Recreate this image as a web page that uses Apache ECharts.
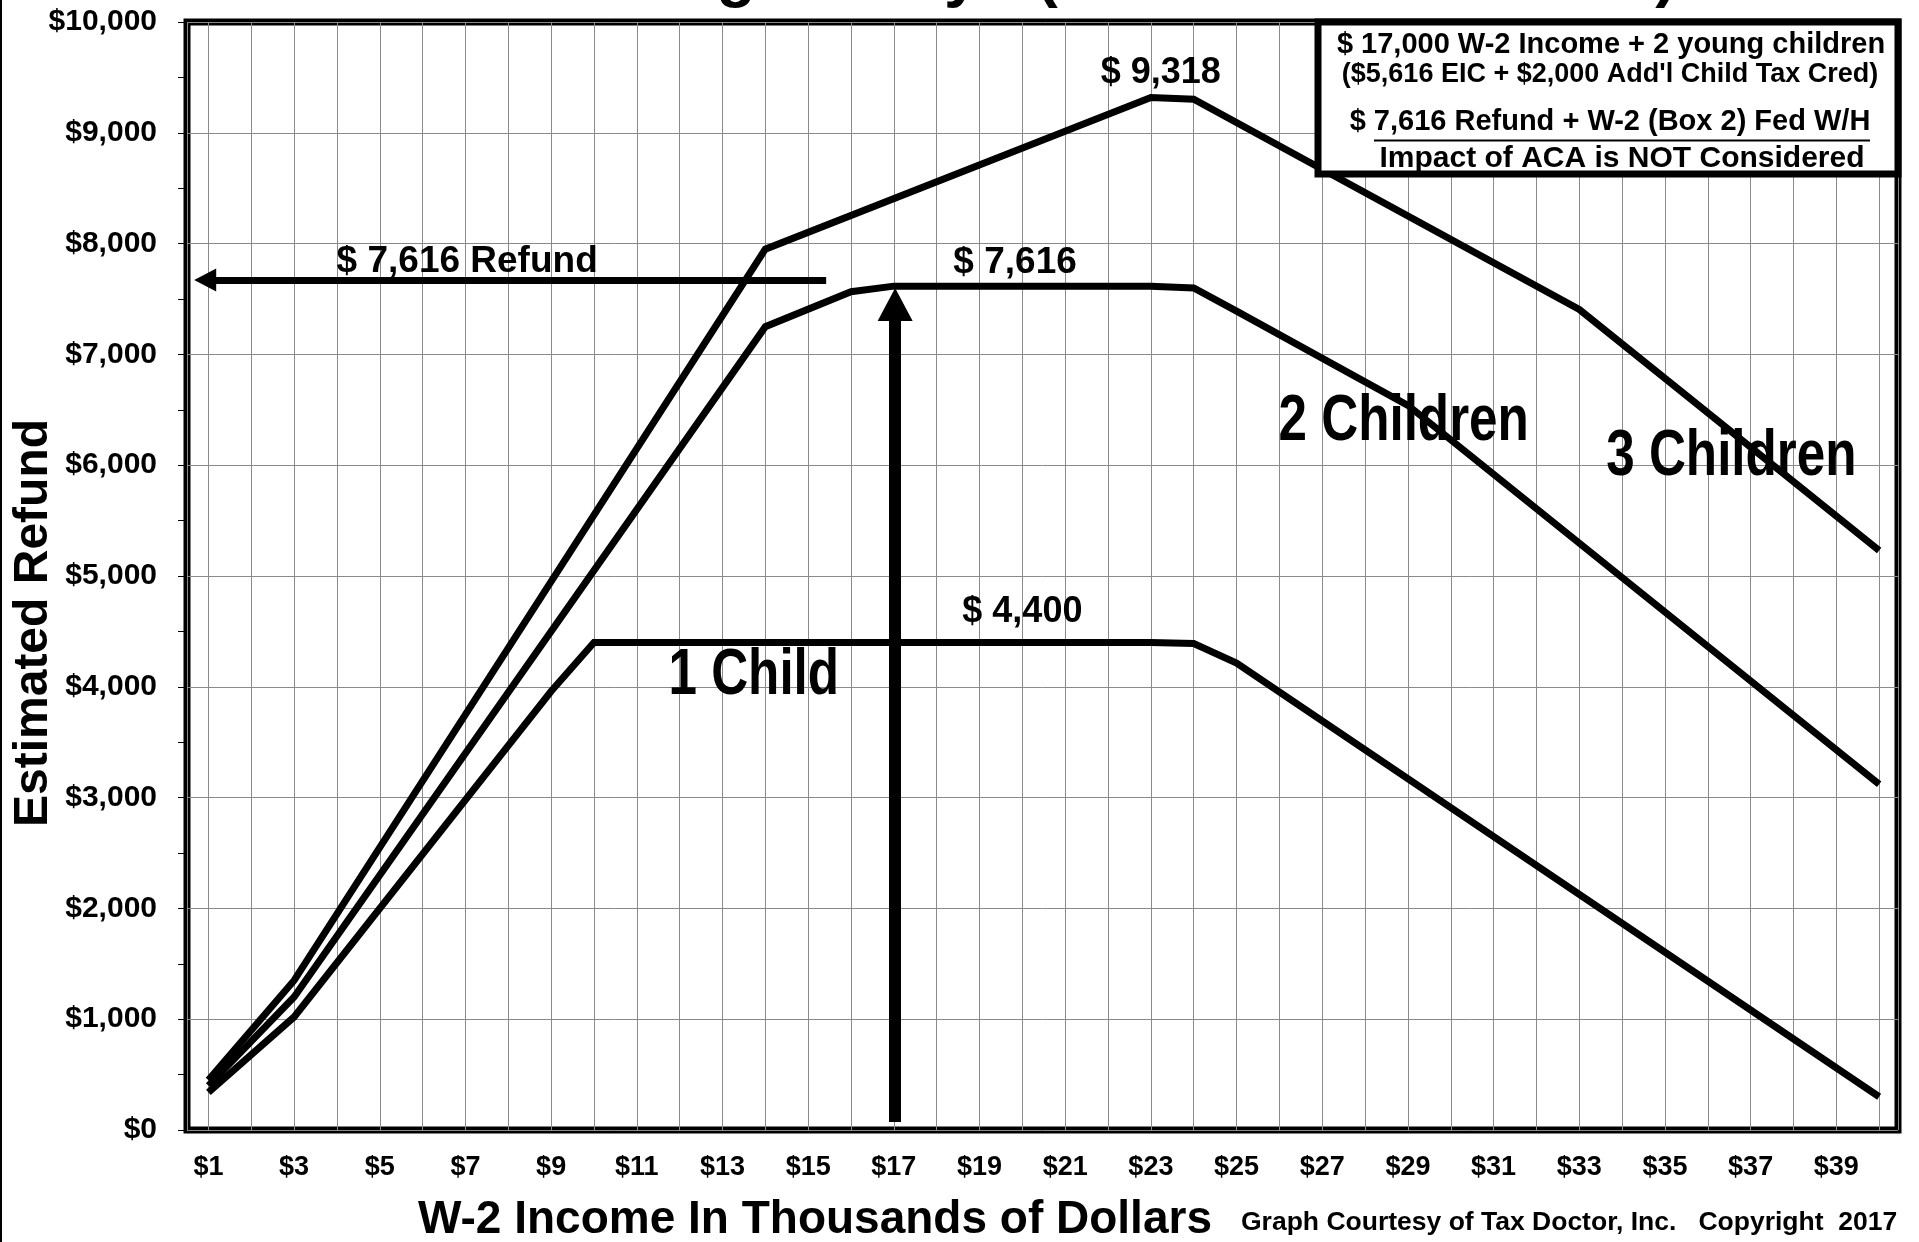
<!DOCTYPE html>
<html>
<head>
<meta charset="utf-8">
<script src="https://cdn.jsdelivr.net/npm/echarts@6.0.0/dist/echarts.min.js"></script>
<style>
html, body { margin: 0; padding: 0; background: #fff; }
#chart { width: 1919px; height: 1242px; }
</style>
</head>
<body>
<div id="chart"></div>
<script>
// refund curves: income in $1000s, refund in $
var oneChildX = [1, 3, 9, 10, 23, 24, 25, 40];
var oneChildY = [340, 1020, 3960, 4400, 4400, 4390, 4215, 300];
var twoChildX = [1, 3, 14, 16, 17, 23, 24, 25, 29, 40];
var twoChildY = [400, 1200, 7250, 7566, 7616, 7616, 7600, 7390, 6540, 3120];
var threeChildX = [1, 3, 14, 23, 24, 33, 40];
var threeChildY = [450, 1350, 7950, 9318, 9303, 7405, 5230];

var seriesNames = ['1 Child', '2 Children', '3 Children'];
var xTickLabels = ['$1', '$3', '$5', '$7', '$9', '$11', '$13', '$15', '$17', '$19',
  '$21', '$23', '$25', '$27', '$29', '$31', '$33', '$35', '$37', '$39'];
var yTickLabels = ['$0', '$1,000', '$2,000', '$3,000', '$4,000', '$5,000',
  '$6,000', '$7,000', '$8,000', '$9,000', '$10,000'];
var noteTexts = ['$ 9,318', '$ 7,616', '$ 4,400', '$ 7,616 Refund'];
var boxLines = ['$ 17,000 W-2 Income + 2 young children',
  '($5,616 EIC + $2,000 Add\'l Child Tax Cred)',
  '$ 7,616 Refund + W-2 (Box 2) Fed W/H',
  'Impact of ACA is NOT Considered'];
var titleText = 'Married Filing Jointly - (# Children under 17)';
var xName = 'W-2 Income In Thousands of Dollars';
var yName = 'Estimated Refund';
var credit = 'Graph Courtesy of Tax Doctor, Inc.   Copyright  2017';

// where the curve names sit, in data units
var namePos = [[13.73, 4091], [28.9, 6390], [36.55, 6074]];

var FONT = "'Liberation Sans', Arial, sans-serif";

function pairs(xs, ys) {
  return xs.map(function (x, i) { return [x, ys[i]]; });
}

// text placed in data space (x = $1000s, y = $)
function note(text, x, y, size) {
  return {
    coord: [x, y], value: text,
    symbol: 'circle', symbolSize: 0,
    itemStyle: { color: 'transparent' },
    label: {
      show: true, position: 'inside', formatter: text,
      color: '#000', fontSize: size, fontWeight: 'bold', fontFamily: FONT
    }
  };
}

function curve(name, xs, ys, extra) {
  var s = {
    name: name, type: 'line', data: pairs(xs, ys),
    symbol: 'none', silent: true, animation: false, z: 3,
    lineStyle: { color: '#000', width: 7, join: 'miter' }
  };
  for (var k in extra) s[k] = extra[k];
  return s;
}

function txt(id, x, y, text, size, align, z) {
  return {
    id: id, type: 'text', z: z || 100, x: x, y: y,
    style: { text: text, fill: '#000', fontSize: size, fontWeight: 'bold', fontFamily: FONT,
      align: align || 'center', verticalAlign: 'middle' }
  };
}

var chart = echarts.init(document.getElementById('chart'));

var graphics = [
  { id: 'frame', type: 'line', z: 100, shape: { x1: 1, y1: 0, x2: 1, y2: 1242 }, style: { stroke: '#000', lineWidth: 2 } },
  txt('title', 336, -23, titleText, 64, 'left'),
  { id: 'yname', type: 'text', z: 100, x: 34, y: 623, rotation: Math.PI / 2,
    style: { text: yName, fill: '#000', fontSize: 48, fontWeight: 'bold', fontFamily: FONT, align: 'center', verticalAlign: 'middle' } },
  txt('xname', 815, 1220, xName, 46),
  txt('credit', 1241, 1223, credit, 26.5, 'left'),
  // note box, top right
  { id: 'boxbg', type: 'rect', z: 100, shape: { x: 1318, y: 22, width: 580, height: 152 }, style: { fill: '#fff' } },
  txt('b1', 1611, 45, boxLines[0], 29, 'center', 101),
  txt('b2', 1610, 75, boxLines[1], 27, 'center', 101),
  txt('b3', 1610, 122, boxLines[2], 29, 'center', 101),
  { id: 'uline', type: 'line', z: 101, shape: { x1: 1374, y1: 140.5, x2: 1870, y2: 140.5 }, style: { stroke: '#000', lineWidth: 2 } },
  txt('b4', 1622, 159, boxLines[3], 30, 'center', 101),
  { id: 'boxline', type: 'rect', z: 102, shape: { x: 1318, y: 22, width: 580, height: 152 }, style: { fill: null, stroke: '#000', lineWidth: 7 } }
];

chart.setOption({
  backgroundColor: '#fff',
  animation: false,
  grid: {
    left: 187, right: 21, top: 22, bottom: 112,
    show: true, borderColor: '#000', borderWidth: 7, backgroundColor: '#fff'
  },
  xAxis: {
    type: 'value', min: 0.5, max: 40.44,
    splitNumber: 40, minInterval: 1, maxInterval: 1,
    axisLine: { show: false },
    axisTick: { show: false },
    axisLabel: {
      margin: 24, color: '#000', fontSize: 27, fontWeight: 'bold', fontFamily: FONT,
      formatter: function (v) {
        return (Number.isInteger(v) && v % 2 === 1) ? xTickLabels[(v - 1) / 2] : '';
      }
    },
    splitLine: { show: true, lineStyle: { color: '#8a8a8a', width: 1 } }
  },
  yAxis: {
    type: 'value', min: 0, max: 10000, interval: 1000,
    axisLine: { show: false },
    axisTick: { show: true, length: 9, lineStyle: { color: '#000', width: 1 } },
    minorTick: { show: true, splitNumber: 2, length: 9, lineStyle: { color: '#000', width: 1 } },
    axisLabel: {
      margin: 30, color: '#000', fontSize: 30, fontWeight: 'bold', fontFamily: FONT,
      formatter: function (v) { return yTickLabels[Math.round(v / 1000)]; }
    },
    splitLine: { show: true, lineStyle: { color: '#8a8a8a', width: 1 } }
  },
  series: [
    curve(seriesNames[0], oneChildX, oneChildY, {
      markPoint: {
        silent: true, animation: false,
        data: [note(noteTexts[2], 20.0, 4678, 36)]
      }
    }),
    curve(seriesNames[1], twoChildX, twoChildY, {
      markPoint: {
        silent: true, animation: false,
        data: [
          note(noteTexts[1], 19.83, 7829, 37),
          note(noteTexts[3], 7.04, 7837, 37)
        ]
      },
      markLine: {
        silent: true, animation: false,
        label: { show: false },
        emphasis: { disabled: true },
        data: [
          // refund read-back arrow
          [{ coord: [15.42, 7671], symbol: 'none', lineStyle: { color: '#000', width: 7, type: 'solid' } },
           { coord: [0.924, 7671], symbol: 'triangle', symbolSize: [23, 22] }],
          // income arrow
          [{ coord: [17.03, 72], symbol: 'none', lineStyle: { color: '#000', width: 12, type: 'solid' } },
           { coord: [17.03, 7450], symbol: 'triangle', symbolSize: [35, 33] }]
        ],
        itemStyle: { color: '#000' },
        lineStyle: { color: '#000', type: 'solid' }
      }
    }),
    curve(seriesNames[2], threeChildX, threeChildY, {
      markPoint: {
        silent: true, animation: false,
        data: [note(noteTexts[0], 23.23, 9535, 36)]
      }
    })
  ],
  graphic: graphics
});

// curve names: condensed bold lettering, anchored through the axes
seriesNames.forEach(function (name, i) {
  var p = chart.convertToPixel({ gridIndex: 0 }, namePos[i]);
  graphics.push({
    id: 'name' + i, type: 'text', z: 90, x: p[0], y: p[1], scaleX: 0.8,
    style: { text: name, fill: '#000', fontSize: 64, fontWeight: 'bold', fontFamily: FONT,
      align: 'center', verticalAlign: 'middle' }
  });
});
chart.setOption({ graphic: graphics });
</script>
</body>
</html>
